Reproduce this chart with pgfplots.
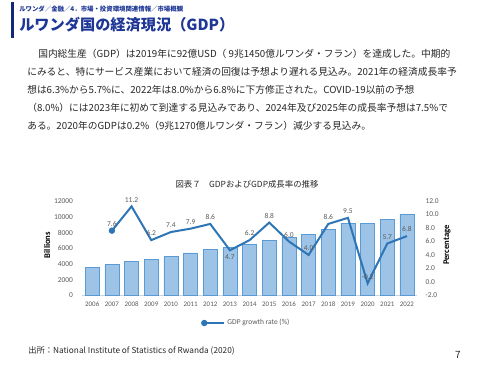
\documentclass[border=0pt]{standalone}
\usepackage{pgfplots}
\pgfplotsset{compat=1.18}
\usepackage{pgfplotstable}
\usepackage{fontspec}
\setmainfont{Carlito}
\newfontfamily\jp{Noto Sans CJK JP}
\definecolor{navy}{RGB}{20,40,120}
\definecolor{titleblue}{RGB}{30,55,150}
\definecolor{barfill}{RGB}{157,195,230}
\definecolor{baredge}{RGB}{91,155,213}
\definecolor{lineblue}{RGB}{46,117,182}
\definecolor{tickgray}{RGB}{89,89,89}
\definecolor{bodytext}{RGB}{38,38,38}

\pgfplotstableread{
year gdp
2006 3600
2007 3900
2008 4300
2009 4550
2010 4950
2011 5400
2012 5830
2013 6100
2014 6500
2015 7000
2016 7400
2017 7750
2018 8400
2019 9145
2020 9127
2021 9650
2022 10340
}\gdptable

\pgfplotstableread{
year rate
2007 7.6
2008 11.2
2009 6.2
2010 7.4
2011 7.9
2012 8.6
2013 4.7
2014 6.2
2015 8.8
2016 6.0
2017 4.0
2018 8.6
2019 9.5
2020 -0.2
2021 5.7
2022 6.8
}\ratetable

\begin{document}
\begin{tikzpicture}[x=0.75pt,y=0.75pt]
\path[use as bounding box] (0,0) rectangle (500,375);
% header
\fill[navy] (11,{375-2}) rectangle (14,{375-38});
\node[anchor=west,inner sep=0,text=titleblue] at (19,{375-9}) {\jp\bfseries\fontsize{4.8}{5}\selectfont ルワンダ／金融／4．市場・投資環境関連情報／市場概観};
\node[anchor=west,inner sep=0,text=titleblue] at (19,{375-25}) {\jp\bfseries\fontsize{11.4}{12}\selectfont ルワンダ国の経済現況（GDP）};
% body
\begin{scope}[every node/.style={anchor=west,inner sep=0,text=bodytext,font=\jp\fontsize{7.3}{8}\selectfont}]
\node at (38,{375-54}) {国内総生産（GDP）は2019年に92億USD（ 9兆1450億ルワンダ・フラン）を達成した。中期的};
\node at (27,{375-72}) {にみると、特にサービス産業において経済の回復は予想より遅れる見込み。2021年の経済成長率予};
\node at (27,{375-90}) {想は6.3\%から5.7\%に、2022年は8.0\%から6.8\%に下方修正された。COVID-19以前の予想};
\node at (27,{375-107.7}) {（8.0\%）には2023年に初めて到達する見込みであり、2024年及び2025年の成長率予想は7.5\%で};
\node at (27,{375-125.4}) {ある。2020年のGDPは0.2\%（9兆1270億ルワンダ・フラン）減少する見込み。};
\end{scope}
% chart title
\node[inner sep=0,text=bodytext] at (247,{375-184}) {\jp\fontsize{6.3}{7}\selectfont 図表７　GDPおよびGDP成長率の推移};
% axis titles
\node[rotate=90,inner sep=0,text=black] at (47,{375-245}) {\bfseries\fontsize{6.5}{7}\selectfont Billions};
\node[rotate=90,inner sep=0,text=black] at (447,{375-245}) {\bfseries\fontsize{6.5}{7}\selectfont Percentage};

\coordinate (O) at (82.4,{375-295.5});

\begin{axis}[
  at={(O)}, anchor=south west, scale only axis,
  width=250.8pt, height=70.9pt,
  xmin=2005.5, xmax=2022.5, ymin=0, ymax=12000,
  xtick={2006,...,2022}, ytick={0,2000,...,12000},
  scaled y ticks=false,
  axis x line*=bottom, axis y line*=left,
  axis line style={-},
  x axis line style={draw=gray!35},
  y axis line style={draw=none},
  major tick length=0pt,
  /pgf/number format/assume math mode=true,
  /pgf/number format/1000 sep={},
  tick label style={font=\fontsize{5.6}{6}\selectfont, text=tickgray},
  xticklabel style={font=\fontsize{5.2}{6}\selectfont, yshift=-1.5pt},
  yticklabel style={xshift=-3.5pt},
]
\addplot[ybar, bar width=10.5pt, fill=barfill, draw=baredge, line width=0.6pt] table[x=year,y=gdp] {\gdptable};
\end{axis}

\begin{axis}[
  at={(O)}, anchor=south west, scale only axis,
  width=250.8pt, height=70.9pt,
  xmin=2005.5, xmax=2022.5, ymin=-2, ymax=12,
  ytick={-2,0,...,12},
  axis x line=none, axis y line*=right,
  axis line style={-},
  y axis line style={draw=none},
  major tick length=0pt,
  /pgf/number format/assume math mode=true,
  yticklabel={\pgfmathprintnumber[fixed,fixed zerofill,precision=1]{\tick}},
  tick label style={font=\fontsize{5.6}{6}\selectfont, text=tickgray},
  yticklabel style={xshift=3pt},
  legend style={at={(0.491,-0.291)}, anchor=center, draw=none, fill=none,
    font=\fontsize{5.6}{6}\selectfont, text=tickgray, inner sep=0pt},
  legend image code/.code={\draw[lineblue, line width=1.2pt] (0cm,0cm) -- (0.52cm,0cm);
     \fill[lineblue] (0cm,0cm) circle (1.6pt);},
  nodes near coords style={font=\fontsize{5.6}{6}\selectfont, text=tickgray, inner sep=3pt,
     /pgf/number format/.cd, fixed, fixed zerofill, precision=1, assume math mode=true},
]
\addplot[lineblue, line width=1.5pt, mark=*, mark indices={1}, mark size=1.6pt]
  table[x=year,y=rate] {\ratetable};
\addlegendentry{GDP growth rate (\%)}
\addplot[draw=none, mark=none, forget plot, nodes near coords, nodes near coords align={above}]
  coordinates {(2007,7.6) (2008,11.2) (2009,6.2) (2010,7.4) (2011,7.9) (2012,8.6) (2014,6.2) (2015,8.8) (2016,6.0) (2017,4.0) (2018,8.6) (2019,9.5) (2020,-0.2) (2021,5.7) (2022,6.8)};
\addplot[draw=none, mark=none, forget plot, nodes near coords, nodes near coords align={below}]
  coordinates {(2013,4.7)};
\end{axis}

% footer
\node[anchor=west,inner sep=0,text=bodytext] at (28,{375-351}) {\jp\fontsize{6.2}{7}\selectfont 出所：National Institute of Statistics of Rwanda (2020)};
\node[inner sep=0,text=bodytext] at (458,{375-355}) {\jp\fontsize{7.5}{8}\selectfont 7};
\end{tikzpicture}
\end{document}
